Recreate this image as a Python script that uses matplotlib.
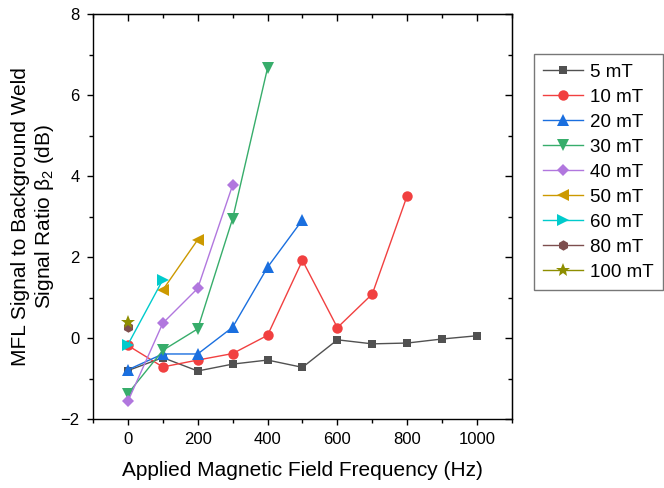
import matplotlib
matplotlib.use("Agg")
import matplotlib.pyplot as plt
from matplotlib.ticker import MultipleLocator

plt.rcParams['font.family'] = ['Liberation Sans', 'DejaVu Sans']
plt.rcParams['mathtext.fontset'] = 'custom'
plt.rcParams['mathtext.rm'] = 'Liberation Sans'
plt.rcParams['mathtext.it'] = 'Liberation Sans'

labels = ["5 mT", "10 mT", "20 mT", "30 mT", "40 mT", "50 mT", "60 mT", "80 mT", "100 mT"]
colors = ["#515151", "#F14040", "#1A6FDF", "#37AD6B", "#B177DE", "#CC9900", "#00CBCC", "#7D4E4E", "#8E8E00"]
markers = ["s", "o", "^", "v", "D", "<", ">", "h", "*"]

x_5 = [0, 100, 200, 300, 400, 500, 600, 700, 800, 900, 1000]
y_5 = [-0.80, -0.48, -0.81, -0.64, -0.54, -0.72, -0.04, -0.14, -0.12, -0.02, 0.06]
x_10 = [0, 100, 200, 300, 400, 500, 600, 700, 800]
y_10 = [-0.18, -0.71, -0.54, -0.38, 0.07, 1.92, 0.26, 1.09, 3.52]
x_20 = [0, 100, 200, 300, 400, 500]
y_20 = [-0.78, -0.39, -0.39, 0.27, 1.75, 2.92]
x_30 = [0, 100, 200, 300, 400]
y_30 = [-1.37, -0.30, 0.23, 2.95, 6.67]
x_40 = [0, 100, 200, 300]
y_40 = [-1.56, 0.37, 1.23, 3.78]
x_50 = [100, 200]
y_50 = [1.19, 2.43]
x_60 = [0, 100]
y_60 = [-0.16, 1.44]
x_80 = [0]
y_80 = [0.27]
x_100 = [0]
y_100 = [0.39]

xs = [x_5, x_10, x_20, x_30, x_40, x_50, x_60, x_80, x_100]
ys = [y_5, y_10, y_20, y_30, y_40, y_50, y_60, y_80, y_100]
msizes = [6, 7.5, 8, 8, 6.5, 9, 9, 7.5, 10]

fig = plt.figure(figsize=(6.64, 4.88), dpi=100)
ax = fig.add_axes([0.140, 0.141, 0.631, 0.830])

for x, y, c, m, lab, ms in zip(xs, ys, colors, markers, labels, msizes):
    ax.plot(x, y, color=c, marker=m, markersize=ms, lw=1.0, label=lab,
            markeredgewidth=0)

ax.set_xlim(-100, 1100)
ax.set_ylim(-2, 8)
ax.xaxis.set_major_locator(MultipleLocator(200))
ax.xaxis.set_minor_locator(MultipleLocator(100))
ax.yaxis.set_major_locator(MultipleLocator(2))
ax.yaxis.set_minor_locator(MultipleLocator(1))
ax.tick_params(which='both', direction='out', top=False, right=False, labelsize=12, width=1.0)
ax.tick_params(which='major', length=4.5, pad=5)
ax.tick_params(which='minor', length=3)
for s in ax.spines.values():
    s.set_linewidth(1.0)

# inward ticks on top and right
ax2 = ax.secondary_xaxis('top')
ax2.xaxis.set_major_locator(MultipleLocator(200))
ax2.xaxis.set_minor_locator(MultipleLocator(100))
ax2.tick_params(which='both', direction='in', labeltop=False, width=1.0)
ax2.tick_params(which='major', length=5)
ax2.tick_params(which='minor', length=3)
ay2 = ax.secondary_yaxis('right')
ay2.yaxis.set_major_locator(MultipleLocator(2))
ay2.yaxis.set_minor_locator(MultipleLocator(1))
ay2.tick_params(which='both', direction='in', labelright=False, width=1.0)
ay2.tick_params(which='major', length=5)
ay2.tick_params(which='minor', length=3)

ax.set_xlabel("Applied Magnetic Field Frequency (Hz)", fontsize=15, labelpad=10)
ax.set_ylabel("MFL Signal to Background Weld\nSignal Ratio \u03b2$_2$ (dB)", fontsize=15, labelpad=3)

leg = ax.legend(loc='upper left', bbox_to_anchor=(1.0525, 0.901), fontsize=13.5,
                frameon=True, fancybox=False, edgecolor='#555555', handlelength=2.1,
                labelspacing=0.42, borderpad=0.5, handletextpad=0.4, borderaxespad=0)
leg.get_frame().set_linewidth(1.0)

fig.savefig("out.png", dpi=100)
